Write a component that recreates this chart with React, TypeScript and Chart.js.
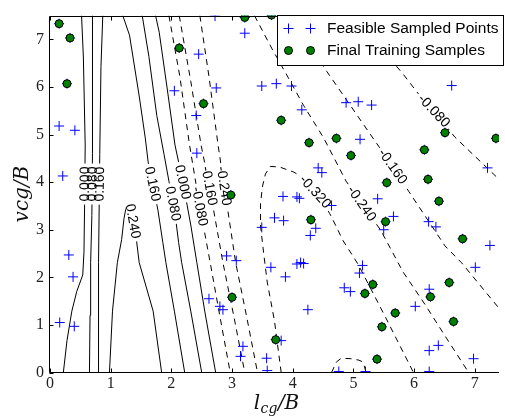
import React, { useEffect, useRef } from "react";
import { Chart, registerables } from "chart.js";

Chart.register(...registerables);

type Pt = [number, number];

// ---------- axes ----------
const xTicks = [0, 1, 2, 3, 4, 5, 6, 7];
const yTicks = [0, 1, 2, 3, 4, 5, 6, 7];
const xRange: Pt = [0, 7.4];
const yRange: Pt = [0, 7.5];

const legendLabels = ["Feasible Sampled Points", "Final Training Samples"];

// ---------- contour lines (level, points in data units) ----------
const c000Left: Pt[] = [[0.22, 0], [0.28, 0.67], [0.36, 1.29], [0.44, 1.70], [0.54, 2.05], [0.56, 2.53], [0.57, 3.50], [0.58, 4.78], [0.55, 6.63], [0.52, 7.5]];
const c080Left: Pt[] = [[0.65, 0], [0.66, 1.2], [0.67, 2.31], [0.69, 3.3], [0.70, 4.6], [0.70, 7.5]];
const c160Left: Pt[] = [[0.80, 0], [0.80, 2.31], [0.82, 4.58], [0.84, 6.43], [0.87, 7.5]];
const c240: Pt[] = [[0.98, 0], [1.03, 1.29], [1.11, 2.31], [1.18, 2.79], [1.22, 3.24], [1.26, 3.51], [1.31, 3.49], [1.36, 3.24], [1.42, 2.83], [1.47, 2.31], [1.70, 1.29], [1.84, 0]];
const c160Right: Pt[] = [[1.20, 7.5], [1.31, 7.09], [1.47, 5.81], [1.57, 4.93], [1.62, 4.4], [1.72, 3.8], [1.78, 3.4], [1.86, 2.73], [1.91, 2.31], [2.05, 1.29], [2.22, 0]];
const c080Right: Pt[] = [[1.52, 7.5], [1.63, 6.64], [1.76, 5.40], [1.88, 4.58], [1.96, 4.02], [2.06, 3.34], [2.12, 2.73], [2.17, 2.31], [2.32, 1.29], [2.50, 0]];
const c000Right: Pt[] = [[1.74, 7.5], [1.80, 7.15], [1.93, 5.98], [2.06, 4.78], [2.19, 4.00], [2.32, 3.10], [2.42, 2.31], [2.55, 1.29], [2.73, 0]];
const cm080Left: Pt[] = [[1.96, 7.5], [2.14, 6.22], [2.30, 4.78], [2.46, 3.55], [2.64, 2.31], [2.80, 1.18], [2.97, 0]];
const cm160Left: Pt[] = [[2.13, 7.5], [2.32, 6.12], [2.49, 4.78], [2.62, 3.96], [2.85, 2.31], [3.03, 1.18], [3.21, 0]];
const cm240Left: Pt[] = [[2.47, 7.5], [2.62, 6.22], [2.77, 4.78], [2.87, 3.92], [3.06, 2.31], [3.24, 1.18], [3.42, 0]];
const cm320: Pt[] = [[3.81, 0], [3.70, 1.08], [3.58, 1.90], [3.52, 2.52], [3.47, 3.08], [3.47, 3.55], [3.50, 3.90], [3.55, 4.17], [3.63, 4.33], [3.78, 4.32], [4.02, 4.21], [4.15, 4.11], [4.40, 3.76], [4.61, 3.34], [4.72, 3.06], [4.83, 2.77], [5.08, 2.27], [5.53, 1.16], [5.99, 0]];
const cm240Right: Pt[] = [[3.37, 7.5], [3.66, 6.80], [3.96, 6.12], [4.18, 5.61], [4.51, 4.93], [4.88, 4.02], [5.14, 3.55], [5.45, 2.99], [5.82, 2.11], [6.18, 1.43], [6.54, 0.71], [6.90, 0]];
const cm160Right: Pt[] = [[3.96, 7.5], [4.56, 6.33], [5.32, 4.93], [5.65, 4.33], [5.91, 3.81], [6.51, 2.66], [6.78, 2.31], [7.40, 1.35]];
const cm080Right: Pt[] = [[5.01, 7.5], [5.08, 7.39], [5.82, 6.27], [6.10, 5.81], [6.33, 5.50], [6.67, 4.95], [7.40, 4.06]];
const cm400: Pt[] = [[4.64, 0], [4.72, 0.22], [4.80, 0.30], [4.96, 0.29], [5.09, 0.26], [5.16, 0.22], [5.21, 0]];

type Contour = { level: number; pts: Pt[]; labelY?: number; pick?: "first" | "last" };
const contours: Contour[] = [
  { level: 0.0, pts: c000Left, labelY: 3.96 },
  { level: 0.08, pts: c080Left, labelY: 3.96 },
  { level: 0.16, pts: c160Left, labelY: 3.96 },
  { level: 0.24, pts: c240, labelY: 3.18, pick: "last" },
  { level: 0.16, pts: c160Right, labelY: 3.96 },
  { level: 0.08, pts: c080Right, labelY: 3.55 },
  { level: 0.0, pts: c000Right, labelY: 4.0 },
  { level: -0.08, pts: cm080Left, labelY: 3.49 },
  { level: -0.16, pts: cm160Left, labelY: 3.92 },
  { level: -0.24, pts: cm240Left, labelY: 3.92 },
  { level: -0.32, pts: cm320, labelY: 3.8, pick: "last" },
  { level: -0.24, pts: cm240Right, labelY: 3.55 },
  { level: -0.16, pts: cm160Right, labelY: 4.33 },
  { level: -0.08, pts: cm080Right, labelY: 5.5 },
  { level: -0.4, pts: cm400 },
];

// ---------- samples ----------
const trainingSamples: Pt[] = [
  [0.15, 7.33], [0.33, 7.03], [0.28, 6.07], [3.21, 7.46], [3.65, 7.51], [2.13, 6.82], [2.53, 5.65],
  [3.81, 5.30], [4.27, 4.83], [2.98, 3.73], [4.30, 3.21], [3.00, 1.58], [3.72, 0.69], [4.72, 4.92],
  [6.51, 5.04], [7.35, 4.92], [4.96, 4.56], [6.17, 4.68], [5.55, 3.99], [6.23, 4.06], [6.41, 3.60],
  [5.53, 3.17], [6.80, 2.81], [5.32, 1.85], [5.19, 1.66], [6.58, 1.89], [6.27, 1.59], [5.69, 1.25],
  [6.65, 1.07], [5.47, 0.96], [5.39, 0.28],
];

const otherFeasible: Pt[] = [
  [0.15, 5.18], [0.41, 5.09], [0.21, 4.13], [0.31, 2.47], [0.38, 2.01], [0.16, 1.05], [0.40, 0.97],
  [2.72, 7.49], [3.21, 7.13], [2.45, 6.69], [2.05, 5.92], [2.74, 5.98], [3.49, 6.02], [3.73, 6.07],
  [3.98, 6.02], [2.41, 5.40], [4.15, 5.52], [2.42, 4.61], [4.42, 4.30], [4.48, 4.20], [3.84, 3.70],
  [4.07, 3.69], [4.11, 3.66], [3.70, 3.25], [3.85, 3.19], [3.49, 3.05], [4.38, 3.03], [4.29, 2.88],
  [4.64, 3.51], [2.91, 2.45], [3.07, 2.35], [3.64, 2.21], [4.07, 2.28], [4.13, 2.31], [4.18, 2.29],
  [3.88, 2.01], [2.62, 1.55], [2.80, 1.39], [2.85, 1.32], [4.25, 1.32], [3.18, 0.55], [3.14, 0.34],
  [3.81, 0.67], [3.57, 0.30], [3.58, 0.04], [6.88, 7.49], [6.62, 6.03], [4.88, 5.67], [5.08, 5.69],
  [5.30, 5.62], [5.11, 4.90], [7.21, 4.30], [5.40, 3.65], [5.66, 3.28], [5.50, 3.00], [6.24, 3.17],
  [6.36, 3.06], [7.25, 2.67], [5.15, 2.25], [7.01, 2.21], [5.10, 2.09], [4.85, 1.78], [4.95, 1.70],
  [6.25, 1.75], [6.02, 1.39], [6.25, 0.46], [6.40, 0.57], [6.98, 0.29], [4.76, 0.02], [5.20, 0.02],
  [6.25, 0.02],
];

const feasibleSamples: Pt[] = [...otherFeasible, ...trainingSamples];

const PLUS_INDEX = 1;
const BLUE = "#0000ff";
const GREEN = "#008000";

const toXY = (pts: Pt[]) => pts.map(([x, y]) => ({ x, y }));

const contourLabelPlugin = {
  id: "contourLabels",
  beforeDatasetDraw(chart: any, args: any) {
    if (args.index !== PLUS_INDEX) return;
    const ctx: CanvasRenderingContext2D = chart.ctx;
    const xs = chart.scales.x;
    const ys = chart.scales.y;
    const area = chart.chartArea;
    const items: { x: number; y: number; a: number; text: string }[] = [];
    for (const c of contours) {
      if (c.labelY === undefined) continue;
      let found: { x: number; y: number; a: number } | null = null;
      for (let i = 0; i < c.pts.length - 1; i++) {
        const [x0, y0] = c.pts[i];
        const [x1, y1] = c.pts[i + 1];
        if (y0 === y1) continue;
        if ((y0 - c.labelY) * (y1 - c.labelY) <= 0) {
          const t = (c.labelY - y0) / (y1 - y0);
          const px0 = xs.getPixelForValue(x0), py0 = ys.getPixelForValue(y0);
          const px1 = xs.getPixelForValue(x1), py1 = ys.getPixelForValue(y1);
          found = { x: px0 + t * (px1 - px0), y: py0 + t * (py1 - py0), a: Math.atan2(py1 - py0, px1 - px0) };
          if (c.pick !== "last") break;
        }
      }
      if (!found) continue;
      let a = found.a;
      if (a >= Math.PI / 2) a -= Math.PI;
      if (a < -Math.PI / 2) a += Math.PI;
      items.push({ x: found.x, y: found.y, a, text: c.level.toFixed(3) });
    }
    ctx.save();
    ctx.beginPath();
    ctx.rect(area.left, area.top, area.right - area.left, area.bottom - area.top);
    ctx.clip();
    ctx.font = "14px 'Liberation Sans', 'DejaVu Sans', sans-serif";
    ctx.textAlign = "center";
    ctx.textBaseline = "middle";
    for (const it of items) {
      const w = ctx.measureText(it.text).width;
      ctx.save();
      ctx.translate(it.x, it.y);
      ctx.rotate(it.a);
      ctx.fillStyle = "#fff";
      ctx.fillRect(-w / 2 - 3, -5, w + 6, 10);
      ctx.restore();
    }
    ctx.fillStyle = "#000";
    for (const it of items) {
      ctx.save();
      ctx.translate(it.x, it.y);
      ctx.rotate(it.a);
      ctx.fillText(it.text, 0, 0.5);
      ctx.restore();
    }
    ctx.restore();
  },
};

const framePlugin = {
  id: "frame",
  afterDatasetsDraw(chart: any) {
    const ctx: CanvasRenderingContext2D = chart.ctx;
    const { left, right, top, bottom } = chart.chartArea;
    const xs = chart.scales.x;
    const ys = chart.scales.y;
    const L = Math.round(left) - 0.5;
    const T = Math.round(top) + 0.5;
    const B = Math.round(bottom) - 0.5;
    ctx.save();
    ctx.strokeStyle = "#000";
    ctx.lineWidth = 1;
    ctx.beginPath();
    ctx.moveTo(right, T);
    ctx.lineTo(L, T);
    ctx.lineTo(L, B);
    ctx.lineTo(right, B);
    const tl = 4;
    for (const v of xTicks) {
      const px = Math.round(xs.getPixelForValue(v)) + 0.5;
      ctx.moveTo(px, B);
      ctx.lineTo(px, B - tl);
      ctx.moveTo(px, T);
      ctx.lineTo(px, T + tl);
    }
    for (const v of yTicks) {
      const py = Math.round(ys.getPixelForValue(v)) + 0.5;
      ctx.moveTo(L, py);
      ctx.lineTo(L + tl, py);
    }
    ctx.stroke();
    ctx.restore();
  },
};

const titlesPlugin = {
  id: "titles",
  afterDraw(chart: any) {
    const ctx: CanvasRenderingContext2D = chart.ctx;
    const { left, right, top, bottom } = chart.chartArea;
    ctx.save();
    ctx.fillStyle = "#111";
    ctx.textBaseline = "alphabetic";
    ctx.textAlign = "left";
    const big = "italic 20px 'DejaVu Serif', serif";
    const small = "italic 14px 'DejaVu Serif', serif";
    ctx.font = big;
    const wl = ctx.measureText("l").width;
    const wr = ctx.measureText("/B").width;
    ctx.font = small;
    const ws = ctx.measureText("cg").width;
    const total = wl + ws + wr + 1;
    let x = (left + right) / 2 + 2 - total / 2;
    const base = 409;
    ctx.font = big;
    ctx.fillText("l", x, base);
    x += wl + 0.5;
    ctx.font = small;
    ctx.fillText("cg", x, base + 4);
    x += ws + 0.5;
    ctx.font = big;
    ctx.fillText("/B", x, base);

    ctx.translate(28, (top + bottom) / 2);
    ctx.rotate(-Math.PI / 2);
    ctx.textAlign = "center";
    ctx.font = big;
    ctx.fillText("vcg/B", 0, 0);
    ctx.restore();
  },
};

const legendPlugin = {
  id: "boxLegend",
  afterDraw(chart: any) {
    const ctx: CanvasRenderingContext2D = chart.ctx;
    const bx = 277.5, by = 15.5, bw = 226, bh = 50;
    ctx.save();
    ctx.fillStyle = "#fff";
    ctx.fillRect(bx, by, bw, bh);
    ctx.strokeStyle = "#000";
    ctx.lineWidth = 1;
    ctx.strokeRect(bx, by, bw, bh);
    const mx = [288.5, 310.5];
    const rows = [28.5, 50.5];
    ctx.strokeStyle = BLUE;
    ctx.beginPath();
    for (const m of mx) {
      ctx.moveTo(m - 5, rows[0]);
      ctx.lineTo(m + 5, rows[0]);
      ctx.moveTo(m, rows[0] - 5);
      ctx.lineTo(m, rows[0] + 5);
    }
    ctx.stroke();
    for (const m of mx) {
      ctx.beginPath();
      ctx.arc(m, rows[1], 4, 0, Math.PI * 2);
      ctx.fillStyle = GREEN;
      ctx.fill();
      ctx.strokeStyle = "#000";
      ctx.stroke();
    }
    ctx.fillStyle = "#000";
    ctx.font = "15.5px 'Liberation Sans', Arial, sans-serif";
    ctx.textAlign = "left";
    ctx.textBaseline = "middle";
    ctx.fillText(legendLabels[0], 327, rows[0] + 0.5);
    ctx.fillText(legendLabels[1], 327, rows[1] + 0.5);
    ctx.restore();
  },
};

export default function App() {
  const ref = useRef<HTMLCanvasElement | null>(null);
  useEffect(() => {
    if (!ref.current) return;
    const datasets: any[] = [
      {
        label: legendLabels[1],
        data: toXY(trainingSamples),
        pointStyle: "circle",
        pointRadius: 4,
        pointBackgroundColor: GREEN,
        pointBorderColor: "#000",
        pointBorderWidth: 1,
        showLine: false,
        order: 0,
        clip: 0,
      },
      {
        label: legendLabels[0],
        data: toXY(feasibleSamples),
        pointStyle: "cross",
        pointRadius: 5,
        pointBorderColor: BLUE,
        pointBorderWidth: 1,
        showLine: false,
        order: 1,
        clip: 0,
      },
      ...contours.map((c) => ({
        label: "contour " + c.level.toFixed(3),
        data: toXY(c.pts),
        showLine: true,
        pointRadius: 0,
        borderColor: "#000",
        borderWidth: 1,
        borderDash: c.level < 0 ? [6, 5] : [],
        tension: 0,
        order: 2,
        clip: 0,
      })),
    ];
    const tickFont = { family: "'Liberation Serif', 'Times New Roman', serif", size: 16 };
    const chart = new Chart(ref.current, {
      type: "scatter",
      data: { datasets },
      options: {
        responsive: false,
        animation: false,
        devicePixelRatio: 1,
        events: [],
        layout: { padding: { top: 7, left: 0, right: 0, bottom: 0 } },
        plugins: { legend: { display: false }, tooltip: { enabled: false }, title: { display: false } },
        scales: {
          x: {
            type: "linear",
            min: xRange[0],
            max: xRange[1],
            grid: { display: false, drawTicks: false },
            border: { display: false },
            ticks: { font: tickFont, color: "#222", padding: 2, maxRotation: 0, includeBounds: false },
            afterBuildTicks: (axis: any) => {
              axis.ticks = xTicks.map((v) => ({ value: v }));
            },
            afterFit: (scale: any) => {
              scale.height = 47.5;
            },
          },
          y: {
            type: "linear",
            min: yRange[0],
            max: yRange[1],
            grid: { display: false, drawTicks: false },
            border: { display: false },
            ticks: { font: tickFont, color: "#222", padding: 6, includeBounds: false },
            afterBuildTicks: (axis: any) => {
              axis.ticks = yTicks.map((v) => ({ value: v }));
            },
            afterFit: (scale: any) => {
              scale.width = 50;
            },
          },
        },
      } as any,
      plugins: [contourLabelPlugin, framePlugin, titlesPlugin, legendPlugin],
    });
    return () => chart.destroy();
  }, []);
  return (
    <div style={{ position: "fixed", left: 0, top: 0, width: 505, height: 420, background: "#fff" }}>
      <canvas ref={ref} width={505} height={420} style={{ width: 505, height: 420 }} />
    </div>
  );
}
